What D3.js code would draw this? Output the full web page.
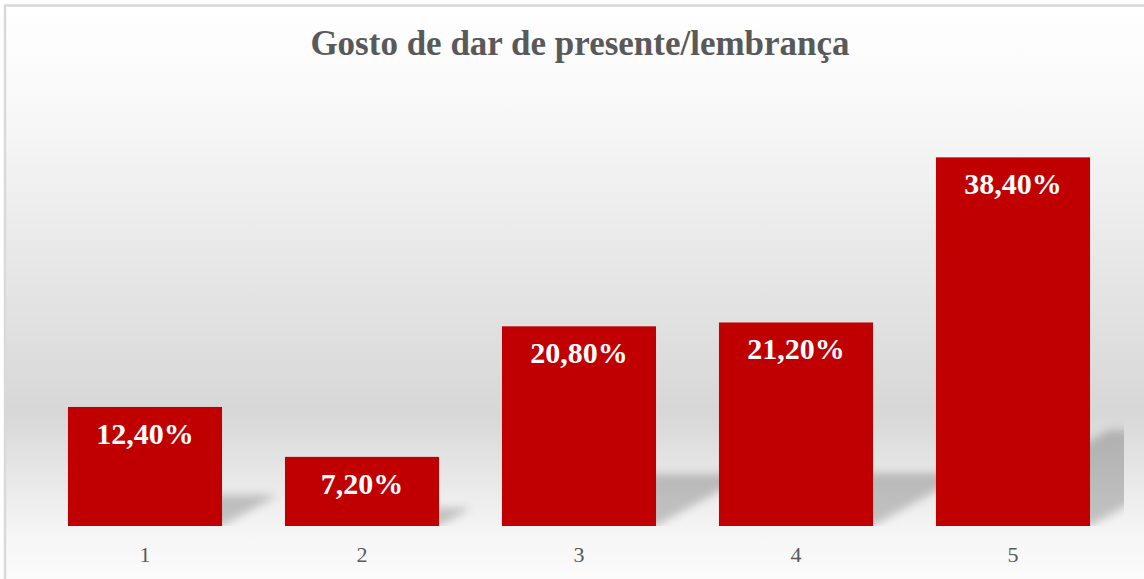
<!DOCTYPE html>
<html>
<head>
<meta charset="utf-8">
<script src="https://cdn.jsdelivr.net/npm/d3@7"></script>
<style>
	html, body { margin: 0; padding: 0; background: #fff; }
	svg { display: block; }
</style>
</head>
<body>
<div id="chart"></div>
<script>

// chart data
const title = 'Gosto de dar de presente/lembrança';
const categories = ['1', '2', '3', '4', '5'];
const values = [12.4, 7.2, 20.8, 21.2, 38.4];
const yMax = 45;

const fmt = v => d3.format('.2f')(v).replace('.', ',') + '%';

const width = 1144;
const height = 579;
const plot = { left: 36.5, right: 1121.5, top: 94, bottom: 526 };

const svg = d3.select('#chart')
	.append('svg')
		.attr('width', width)
		.attr('height', height);

const defs = svg.append('defs');

// background gradient, white -> grey -> white
const bg = defs.append('linearGradient')
	.attr('id', 'bg')
	.attr('x1', 0).attr('y1', 0).attr('x2', 0).attr('y2', 1);
[[0, '#ffffff'], [0.16, '#f9f9f9'], [0.69, '#d7d7d7'], [0.9, '#f6f6f6'], [1, '#fdfdfd']]
	.forEach(s => bg.append('stop').attr('offset', s[0]).attr('stop-color', s[1]));

defs.append('filter')
	.attr('id', 'blur')
	.attr('x', '-20%').attr('y', '-20%').attr('width', '140%').attr('height', '140%')
	.append('feGaussianBlur')
		.attr('stdDeviation', 4);

defs.append('clipPath')
	.attr('id', 'plotClip')
	.append('rect')
		.attr('x', plot.left)
		.attr('y', 0)
		.attr('width', 1124 - plot.left)
		.attr('height', plot.bottom);

svg.append('rect')
	.attr('x', 5)
	.attr('y', 5.5)
	.attr('width', width + 10)
	.attr('height', height + 10)
	.attr('fill', 'url(#bg)')
	.attr('stroke', '#d9d9d9')
	.attr('stroke-width', 2.5);

svg.append('text')
	.attr('x', 580)
	.attr('y', 55)
	.attr('text-anchor', 'middle')
	.attr('font-family', '"Liberation Serif", "Times New Roman", serif')
	.attr('font-weight', 'bold')
	.attr('font-size', 35)
	.attr('fill', '#595959')
	.text(title);

const x = d3.scaleBand()
	.domain(categories)
	.range([plot.left, plot.right])
	.paddingInner(0.29)
	.paddingOuter(0.145);

const y = d3.scaleLinear()
	.domain([0, yMax])
	.range([plot.bottom, plot.top]);

// perspective shadows
const shadowK = 0.26;
const shear = 1.8;
svg.append('g')
	.attr('clip-path', 'url(#plotClip)')
	.append('g')
		.attr('filter', 'url(#blur)')
	.selectAll('polygon')
	.data(values)
	.join('polygon')
		.attr('fill', 'rgba(0,0,0,0.2)')
		.attr('points', (d, i) => {
			const x0 = x(categories[i]);
			const x1 = x0 + x.bandwidth();
			const b = y(0);
			const hs = (y(0) - y(d)) * shadowK;
			const dx = hs * shear;
			return [[x0, b], [x1, b], [x1 + dx, b - hs], [x0 + dx, b - hs]].join(' ');
		});

svg.append('g')
	.selectAll('rect')
	.data(values)
	.join('rect')
		.attr('x', (d, i) => x(categories[i]))
		.attr('y', d => y(d))
		.attr('width', x.bandwidth())
		.attr('height', d => y(0) - y(d))
		.attr('fill', '#c00000');

svg.append('g')
	.selectAll('text')
	.data(values)
	.join('text')
		.attr('x', (d, i) => x(categories[i]) + x.bandwidth() / 2)
		.attr('y', d => y(d) + 37)
		.attr('text-anchor', 'middle')
		.attr('font-family', '"Liberation Serif", "Times New Roman", serif')
		.attr('font-weight', 'bold')
		.attr('font-size', 30)
		.attr('fill', '#ffffff')
		.text(d => fmt(d));

const xAxis = d3.axisBottom(x)
	.tickSize(0)
	.tickPadding(20);

svg.append('g')
	.attr('class', 'xAxis')
	.attr('transform', `translate(0, ${plot.bottom})`)
	.call(xAxis)
	.call(g => g.select('.domain').remove())
	.call(g => g.selectAll('text')
		.attr('font-family', '"Liberation Serif", "Times New Roman", serif')
		.attr('font-size', 22)
		.attr('fill', '#595959'));

</script>
</body>
</html>
